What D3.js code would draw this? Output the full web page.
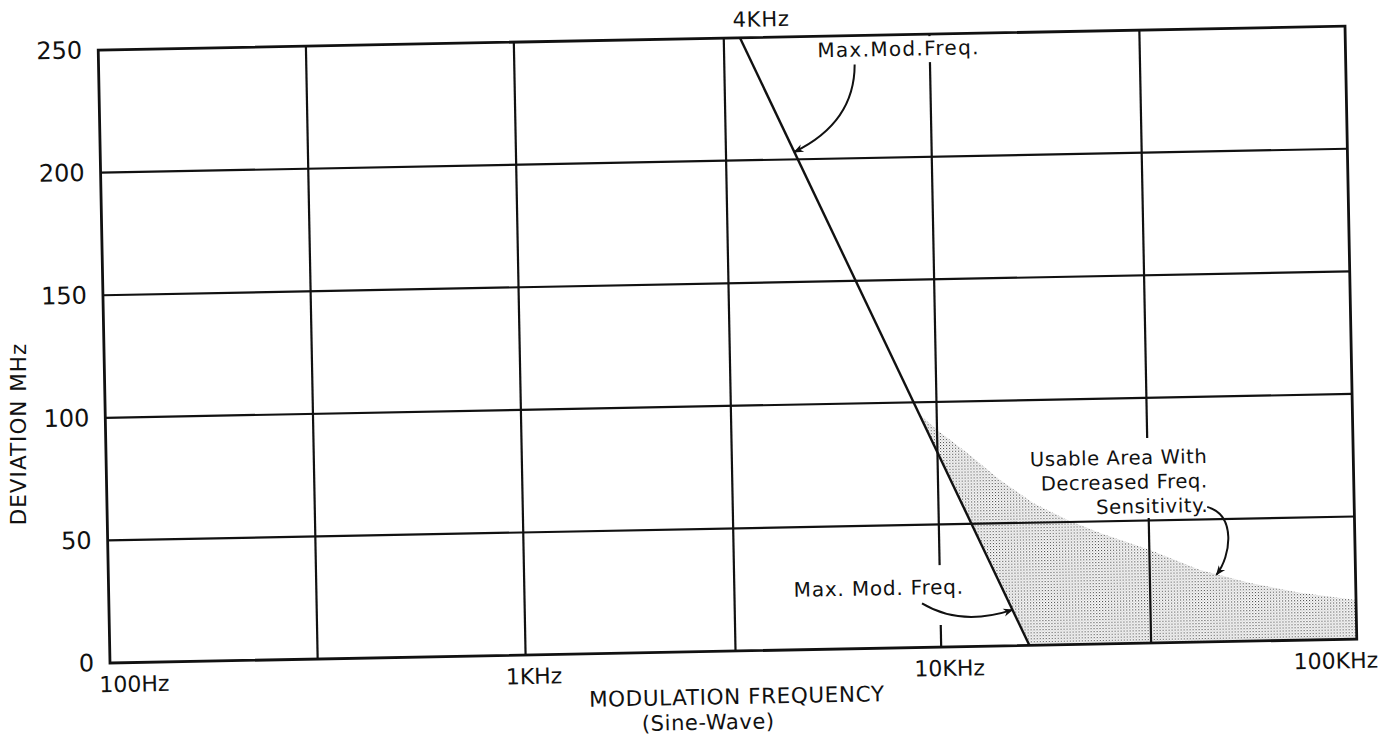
<!DOCTYPE html>
<html><head><meta charset="utf-8">
<script src="https://cdn.jsdelivr.net/npm/d3@7"></script>
<style>
body{margin:0;background:#fff}
svg{display:block}
text{font-family:"DejaVu Sans",sans-serif;fill:#111}
</style>
</head><body>
<svg id="chart" width="1397" height="738"></svg>
<script>
// ---- data ----
const freqGrid = [100, 316, 1000, 3200, 10000, 32000, 100000];
const freqTicks = [100, 1000, 10000, 100000];
const freqTickLabels = ["100Hz", "1KHz", "10KHz", "100KHz"];
const devTicks = [0, 50, 100, 150, 200, 250];
const devTickLabels = ["0", "50", "100", "150", "200", "250"];
// Max. modulation frequency line (Hz, MHz deviation)
const maxModFreq = [3500, 16300];
const maxModDev = [250, 0];
// upper edge of "usable area with decreased freq. sensitivity"
const usableFreq = [9100, 10000, 11800, 14100, 16900, 20400, 24400, 32100, 42300, 55700, 73400, 100000];
const usableDev  = [95, 88.5, 78.9, 67.7, 58, 50.8, 45.3, 37.9, 29.4, 23.7, 19.3, 15.9];

// ---- layout ----
const W = 1247, H = 613;
const svg = d3.select("#chart");
const ink = "#111";

const defs = svg.append("defs");
const pat = defs.append("pattern").attr("id","stip").attr("patternUnits","userSpaceOnUse")
  .attr("width",3).attr("height",3);
pat.append("rect").attr("x",0).attr("y",0).attr("width",1.1).attr("height",1.1).attr("fill","#444");
pat.append("rect").attr("x",1.5).attr("y",1.5).attr("width",1).attr("height",1).attr("fill","#888");
defs.append("marker").attr("id","ah").attr("viewBox","0 0 10 10").attr("refX",9).attr("refY",5)
  .attr("markerWidth",15).attr("markerHeight",10).attr("markerUnits","userSpaceOnUse").attr("orient","auto")
  .append("path").attr("d","M0,1 L10,5 L0,9 L3,5 Z").attr("fill",ink);

const g = svg.append("g").attr("transform","translate(110,663) rotate(-1.1) translate(0,-613)");

const x = d3.scaleLog().domain([100, 100000]).range([0, W]);
const y = d3.scaleLinear().domain([0, 250]).range([H, 0]);

// shaded usable area
const area = usableFreq.map((f,i)=>[x(f), y(usableDev[i])]);
area.push([x(100000), y(0)]);
area.push([x(maxModFreq[1]), y(maxModDev[1])]);
g.append("path").attr("d", d3.line()(area) + "Z").attr("fill","url(#stip)").attr("stroke","none");

// grid
g.selectAll(".vg").data(freqGrid.slice(1,-1)).join("line")
  .attr("x1",d=>x(d)).attr("x2",d=>x(d)).attr("y1",y(250)).attr("y2",y(0))
  .attr("stroke",ink).attr("stroke-width",2.2);
g.selectAll(".hg").data(devTicks.slice(1,-1)).join("line")
  .attr("x1",0).attr("x2",W).attr("y1",d=>y(d)).attr("y2",d=>y(d))
  .attr("stroke",ink).attr("stroke-width",2.2);

// knock-out gaps behind annotation text
const knock = [[x(10000)-4, 2, 8, 26], [x(10000)-4, 531, 8, 60], [x(32000)-4, 408, 8, 80]];
g.selectAll(".ko").data(knock).join("rect")
  .attr("x",d=>d[0]).attr("y",d=>d[1]).attr("width",d=>d[2]).attr("height",d=>d[3]).attr("fill","#fff");

// border
g.append("rect").attr("x",0).attr("y",0).attr("width",W).attr("height",H)
  .attr("fill","none").attr("stroke",ink).attr("stroke-width",2.8);

// max mod freq line
const diag = maxModFreq.map((f,i)=>[x(f), y(maxModDev[i])]);
g.append("path").attr("d", d3.line()(diag)).attr("stroke",ink).attr("stroke-width",2.4).attr("fill","none");
function onDiag(dev){
  const t = (dev - maxModDev[0])/(maxModDev[1]-maxModDev[0]);
  return [diag[0][0] + (diag[1][0]-diag[0][0])*t, y(dev)];
}

// tick labels
g.selectAll(".xt").data(freqTicks).join("text")
  .attr("x",(d,i)=> x(d) + (i===0 ? -11 : i===freqTicks.length-1 ? 21 : 8))
  .attr("y",H+29)
  .attr("text-anchor",(d,i)=> i===0 ? "start" : i===freqTicks.length-1 ? "end" : "middle")
  .attr("font-size",22).text((d,i)=>freqTickLabels[i]);
g.selectAll(".yt").data(devTicks).join("text")
  .attr("x",-16).attr("y",d=>y(d)+8).attr("text-anchor","end")
  .attr("font-size",24).text((d,i)=>devTickLabels[i]);

// axis titles
g.append("text").attr("x",626).attr("y",666).attr("text-anchor","middle").attr("font-size",21.5)
  .attr("letter-spacing",0.6).text("MODULATION FREQUENCY");
g.append("text").attr("x",597).attr("y",691).attr("text-anchor","middle").attr("font-size",21)
  .attr("letter-spacing",0.6).text("(Sine-Wave)");
svg.append("text").attr("transform","translate(26,434) rotate(-90)").attr("text-anchor","middle")
  .attr("font-size",21.5).attr("letter-spacing",1).text("DEVIATION MHz");

// annotations
g.append("text").attr("x",diag[0][0]-7).attr("y",-11).attr("font-size",21).attr("letter-spacing",0.8).text("4KHz");
g.append("text").attr("x",719).attr("y",21).attr("font-size",20).attr("letter-spacing",1.3).text("Max.Mod.Freq.");
const t1 = onDiag(203);
g.append("path").attr("d",`M756,29 Q755,87 ${t1[0]},${t1[1]}`)
  .attr("fill","none").attr("stroke",ink).attr("stroke-width",2).attr("marker-end","url(#ah)");

g.append("text").attr("x",685).attr("y",560).attr("font-size",20).attr("letter-spacing",0.8).text("Max. Mod. Freq.");
const t2 = onDiag(14.6);
g.append("path").attr("d",`M813,569 Q851,593 ${t2[0]},${t2[1]}`)
  .attr("fill","none").attr("stroke",ink).attr("stroke-width",2).attr("marker-end","url(#ah)");

const usable = ["Usable Area With", "Decreased Freq.", "Sensitivity."];
g.selectAll(".ua").data(usable).join("text")
  .attr("x",1101).attr("y",(d,i)=>434 + i*24.5).attr("text-anchor","end").attr("font-size",19.5)
  .attr("letter-spacing",0.6).text(d=>d);
g.append("path").attr("d","M1100,478 C1129,487 1123,527 1108,546")
  .attr("fill","none").attr("stroke",ink).attr("stroke-width",2).attr("marker-end","url(#ah)");
</script>
</body></html>
